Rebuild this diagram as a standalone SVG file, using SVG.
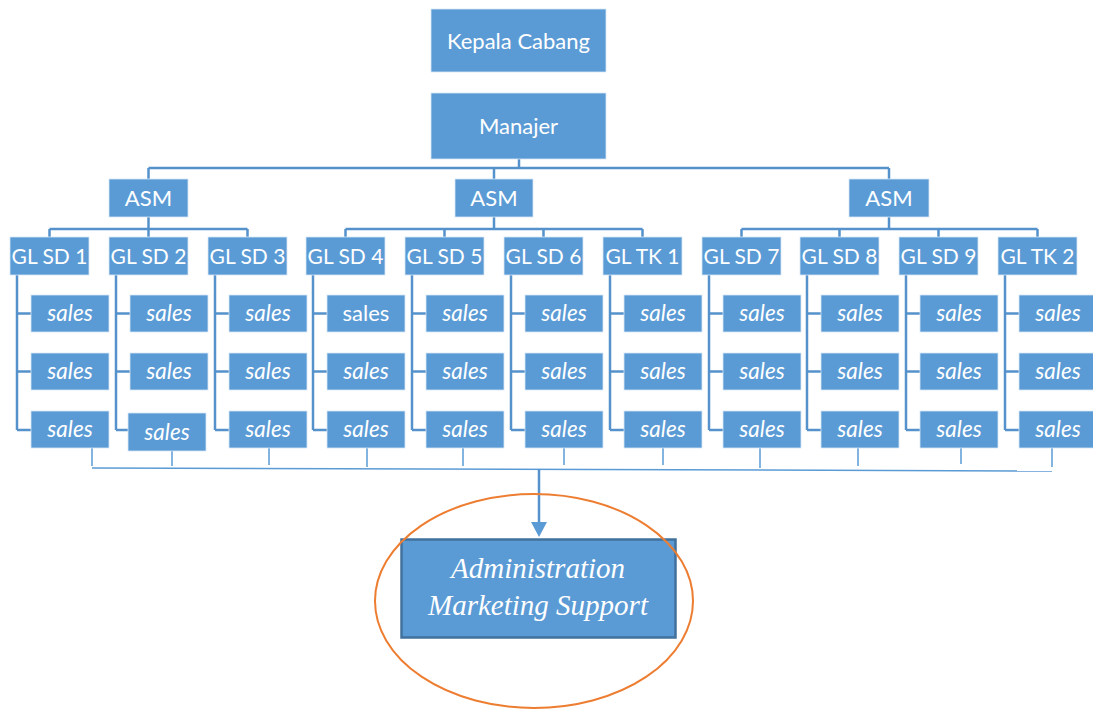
<svg xmlns="http://www.w3.org/2000/svg" width="1093" height="709" viewBox="0 0 1093 709">
<defs>
<style>
.b{fill:#5B9BD5;stroke:#D6E6F5;stroke-width:0.8}
.t{fill:#fff;font-family:Lato,"Open Sans","Liberation Sans",sans-serif;font-size:22px;text-anchor:middle}
.g{font-size:21px}
.s{font-style:italic;font-size:22.5px}
.c{fill:none;stroke:#5592CC;stroke-width:2.5}
.th{fill:none;stroke:#5B9BD5;stroke-width:1.5}
.a{fill:#fff;font-family:"Liberation Serif",serif;font-style:italic;font-size:29px;text-anchor:middle}
</style>
</defs>
<rect width="1093" height="709" fill="#fff"/>
<g id="connectors">
<path class="c" d="M519 159V168M148.5 168H889M148.5 168V179M494 168V179M889 168V179"/>
<path class="c" d="M148.5 217V229M49.5 229H247.5M49.5 229V237M148.5 229V237M247.5 229V237"/>
<path class="c" d="M494 217V229M345.5 229H642.5M345.5 229V237M444.5 229V237M543.5 229V237M642.5 229V237"/>
<path class="c" d="M889 217V229M741.5 229H1037.5M741.5 229V237M839.5 229V237M938.5 229V237M1037.5 229V237"/>
<path class="c" d="M17 275V430M17 313.5H31M17 371.5H31M17 430H31"/>
<path class="c" d="M116 275V430M116 313.5H130M116 371.5H130M116 430H128"/>
<path class="c" d="M215 275V430M215 313.5H229M215 371.5H229M215 430H229"/>
<path class="c" d="M313 275V430M313 313.5H327M313 371.5H327M313 430H327"/>
<path class="c" d="M412 275V430M412 313.5H426M412 371.5H426M412 430H426"/>
<path class="c" d="M511 275V430M511 313.5H525M511 371.5H525M511 430H525"/>
<path class="c" d="M610 275V430M610 313.5H624M610 371.5H624M610 430H624"/>
<path class="c" d="M709 275V430M709 313.5H723M709 371.5H723M709 430H723"/>
<path class="c" d="M807 275V430M807 313.5H821M807 371.5H821M807 430H821"/>
<path class="c" d="M906 275V430M906 313.5H920M906 371.5H920M906 430H920"/>
<path class="c" d="M1005 275V430M1005 313.5H1019M1005 371.5H1019M1005 430H1019"/>
<path class="th" d="M92 448V466M172 451V466M269 448V465M367 448V467M463 448V466M564 448V465M663 448V465M760 448V468M858 448V466M961 448V464M1052 448V467"/>
<path class="th" stroke-width="2" d="M92 468L1052 471"/>
<path class="c" d="M539 469V523"/>
<polygon points="531,522 547,522 539,537" fill="#5B9BD5"/>
</g>
<g id="kepala"><rect class="b" x="431" y="9" width="175" height="63"/><text class="t" x="518.5" y="48.5">Kepala Cabang</text></g>
<g id="manajer"><rect class="b" x="431" y="93" width="175" height="66"/><text class="t" x="518.5" y="133.5">Manajer</text></g>
<g id="asm1"><rect class="b" x="109" y="179" width="79" height="38"/><text class="t" x="148.5" y="205.5">ASM</text></g>
<g id="asm2"><rect class="b" x="455" y="179" width="78" height="38"/><text class="t" x="494" y="205.5">ASM</text></g>
<g id="asm3"><rect class="b" x="849" y="179" width="80" height="38"/><text class="t" x="889" y="205.5">ASM</text></g>
<g id="gl1"><rect class="b" x="10" y="237" width="79" height="38"/><text class="t g" x="49.5" y="263.5">GL SD 1</text></g>
<g id="gl2"><rect class="b" x="109" y="237" width="79" height="38"/><text class="t g" x="148.5" y="263.5">GL SD 2</text></g>
<g id="gl3"><rect class="b" x="208" y="237" width="79" height="38"/><text class="t g" x="247.5" y="263.5">GL SD 3</text></g>
<g id="gl4"><rect class="b" x="306" y="237" width="79" height="38"/><text class="t g" x="345.5" y="263.5">GL SD 4</text></g>
<g id="gl5"><rect class="b" x="405" y="237" width="79" height="38"/><text class="t g" x="444.5" y="263.5">GL SD 5</text></g>
<g id="gl6"><rect class="b" x="504" y="237" width="79" height="38"/><text class="t g" x="543.5" y="263.5">GL SD 6</text></g>
<g id="gltk1"><rect class="b" x="603" y="237" width="79" height="38"/><text class="t g" x="642.5" y="263.5">GL TK 1</text></g>
<g id="gl7"><rect class="b" x="702" y="237" width="79" height="38"/><text class="t g" x="741.5" y="263.5">GL SD 7</text></g>
<g id="gl8"><rect class="b" x="800" y="237" width="79" height="38"/><text class="t g" x="839.5" y="263.5">GL SD 8</text></g>
<g id="gl9"><rect class="b" x="899" y="237" width="79" height="38"/><text class="t g" x="938.5" y="263.5">GL SD 9</text></g>
<g id="gltk2"><rect class="b" x="998" y="237" width="79" height="38"/><text class="t g" x="1037.5" y="263.5">GL TK 2</text></g>
<g id="sales-c1">
<g id="s1a"><rect class="b" x="31" y="295" width="78" height="37"/><text class="t s" x="70" y="321">sales</text></g>
<g id="s1b"><rect class="b" x="31" y="353" width="78" height="37"/><text class="t s" x="70" y="379">sales</text></g>
<g id="s1c"><rect class="b" x="31" y="411" width="78" height="37"/><text class="t s" x="70" y="437">sales</text></g>
</g>
<g id="sales-c2">
<g id="s2a"><rect class="b" x="130" y="295" width="78" height="37"/><text class="t s" x="169" y="321">sales</text></g>
<g id="s2b"><rect class="b" x="130" y="353" width="78" height="37"/><text class="t s" x="169" y="379">sales</text></g>
<g id="s2c"><rect class="b" x="128" y="413" width="78" height="38"/><text class="t s" x="167" y="440">sales</text></g>
</g>
<g id="sales-c3">
<g id="s3a"><rect class="b" x="229" y="295" width="78" height="37"/><text class="t s" x="268" y="321">sales</text></g>
<g id="s3b"><rect class="b" x="229" y="353" width="78" height="37"/><text class="t s" x="268" y="379">sales</text></g>
<g id="s3c"><rect class="b" x="229" y="411" width="78" height="37"/><text class="t s" x="268" y="437">sales</text></g>
</g>
<g id="sales-c4">
<g id="s4a"><rect class="b" x="327" y="295" width="78" height="37"/><text class="t" x="366" y="321">sales</text></g>
<g id="s4b"><rect class="b" x="327" y="353" width="78" height="37"/><text class="t s" x="366" y="379">sales</text></g>
<g id="s4c"><rect class="b" x="327" y="411" width="78" height="37"/><text class="t s" x="366" y="437">sales</text></g>
</g>
<g id="sales-c5">
<g id="s5a"><rect class="b" x="426" y="295" width="78" height="37"/><text class="t s" x="465" y="321">sales</text></g>
<g id="s5b"><rect class="b" x="426" y="353" width="78" height="37"/><text class="t s" x="465" y="379">sales</text></g>
<g id="s5c"><rect class="b" x="426" y="411" width="78" height="37"/><text class="t s" x="465" y="437">sales</text></g>
</g>
<g id="sales-c6">
<g id="s6a"><rect class="b" x="525" y="295" width="78" height="37"/><text class="t s" x="564" y="321">sales</text></g>
<g id="s6b"><rect class="b" x="525" y="353" width="78" height="37"/><text class="t s" x="564" y="379">sales</text></g>
<g id="s6c"><rect class="b" x="525" y="411" width="78" height="37"/><text class="t s" x="564" y="437">sales</text></g>
</g>
<g id="sales-c7">
<g id="s7a"><rect class="b" x="624" y="295" width="78" height="37"/><text class="t s" x="663" y="321">sales</text></g>
<g id="s7b"><rect class="b" x="624" y="353" width="78" height="37"/><text class="t s" x="663" y="379">sales</text></g>
<g id="s7c"><rect class="b" x="624" y="411" width="78" height="37"/><text class="t s" x="663" y="437">sales</text></g>
</g>
<g id="sales-c8">
<g id="s8a"><rect class="b" x="723" y="295" width="78" height="37"/><text class="t s" x="762" y="321">sales</text></g>
<g id="s8b"><rect class="b" x="723" y="353" width="78" height="37"/><text class="t s" x="762" y="379">sales</text></g>
<g id="s8c"><rect class="b" x="723" y="411" width="78" height="37"/><text class="t s" x="762" y="437">sales</text></g>
</g>
<g id="sales-c9">
<g id="s9a"><rect class="b" x="821" y="295" width="78" height="37"/><text class="t s" x="860" y="321">sales</text></g>
<g id="s9b"><rect class="b" x="821" y="353" width="78" height="37"/><text class="t s" x="860" y="379">sales</text></g>
<g id="s9c"><rect class="b" x="821" y="411" width="78" height="37"/><text class="t s" x="860" y="437">sales</text></g>
</g>
<g id="sales-c10">
<g id="s10a"><rect class="b" x="920" y="295" width="78" height="37"/><text class="t s" x="959" y="321">sales</text></g>
<g id="s10b"><rect class="b" x="920" y="353" width="78" height="37"/><text class="t s" x="959" y="379">sales</text></g>
<g id="s10c"><rect class="b" x="920" y="411" width="78" height="37"/><text class="t s" x="959" y="437">sales</text></g>
</g>
<g id="sales-c11">
<g id="s11a"><rect class="b" x="1019" y="295" width="78" height="37"/><text class="t s" x="1058" y="321">sales</text></g>
<g id="s11b"><rect class="b" x="1019" y="353" width="78" height="37"/><text class="t s" x="1058" y="379">sales</text></g>
<g id="s11c"><rect class="b" x="1019" y="411" width="78" height="37"/><text class="t s" x="1058" y="437">sales</text></g>
</g>
<g id="admin">
<rect x="401.5" y="539.5" width="274" height="98" fill="#5B9BD5" stroke="#41719C" stroke-width="2.5"/>
<text class="a" x="538" y="578">Administration</text>
<text class="a" x="538" y="615">Marketing Support</text>
</g>
<g id="highlight"><ellipse cx="534" cy="601" rx="159" ry="107" fill="none" stroke="#ED7D31" stroke-width="2"/></g>
</svg>
